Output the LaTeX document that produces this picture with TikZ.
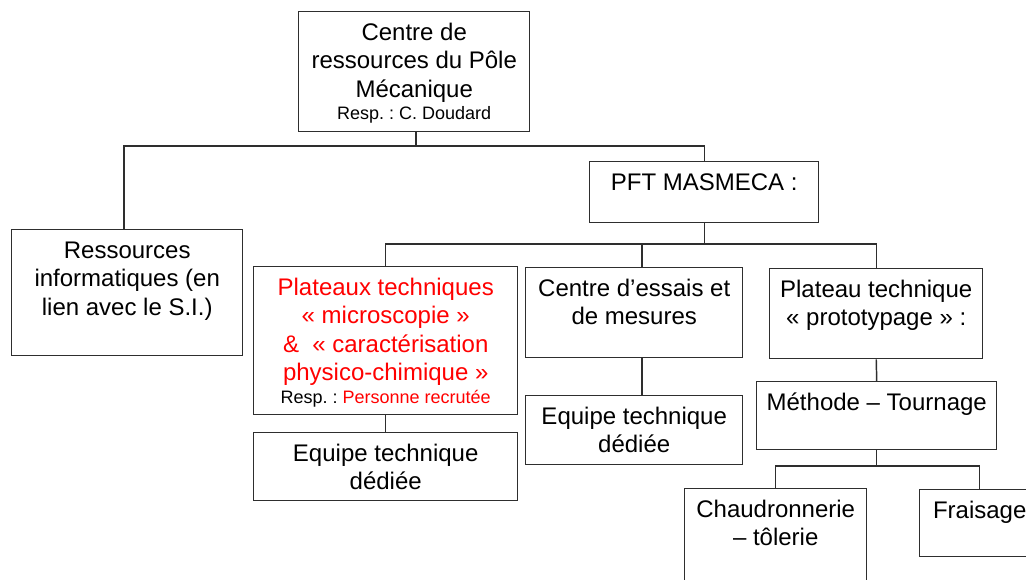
\documentclass[tikz,border=0pt]{standalone}
\usepackage{fontspec}
\setmainfont{Liberation Sans}
\frenchspacing
\newdimen\px \px=0.75pt
\definecolor{lc}{HTML}{2E2E2E}
\tikzset{
  box/.style={draw=lc, line width=1.1pt, inner sep=0pt, anchor=north west, fill=white},
  conn/.style={draw=lc, line width=1.1pt},
}
\newcommand{\bt}[3]{\parbox[t][#2\px][t]{#1\px}{\frenchspacing\centering\fontsize{18}{21.4}\selectfont\rule{0pt}{28.5\px}#3}}
\newcommand{\smallline}{\par\fontsize{13.5}{17}\selectfont}
\begin{document}
\begin{tikzpicture}[x=0.75pt,y=-0.75pt]
\useasboundingbox (0,0) rectangle (1026,580);
\fill[white] (0,0) rectangle (1026,580);
\clip (0,0) rectangle (1026,580);

\node[box] (top) at (298,11) {\bt{231}{120}{Centre de\\ressources du Pôle\\Mécanique\smallline Resp. : C. Doudard}};
\node[box] (res) at (11,229) {\bt{231}{126}{Ressources\\informatiques (en\\lien avec le S.I.)}};
\node[box] (pft) at (589,161) {\bt{229}{61}{PFT MASMECA :}};
\node[box] (plat) at (253,266) {\bt{264}{148}{\color{red}Plateaux techniques\\« microscopie »\\\&~~« caractérisation\\physico-chimique »\smallline\color{black}Resp. : \textcolor{red}{Personne recrutée}}};
\node[box] (eq1) at (253,432) {\bt{264}{68}{Equipe technique\\dédiée}};
\node[box] (ess) at (525,267) {\bt{217}{90}{Centre d’essais et\\de mesures}};
\node[box] (eq2) at (525,395) {\bt{217}{69}{Equipe technique\\dédiée}};
\node[box] (proto) at (769,268) {\bt{213}{90}{Plateau technique\\« prototypage » :}};
\node[box] (meth) at (756,381) {\bt{240}{68}{Méthode – Tournage}};
\node[box] (chau) at (684,488) {\bt{182}{130}{Chaudronnerie\\– tôlerie}};
\node[box] (frai) at (919,489) {\bt{120}{67}{Fraisage}};

\coordinate (j1) at (416,146);
\coordinate (xr) at (124,146);
\draw[conn] (top.south -| j1) -- (j1);
\draw[conn] (res.north -| xr) -- (xr) -- (j1) -| (pft.north);

\coordinate (j2) at (704,244);
\coordinate (xe) at (642,244);
\draw[conn] (pft.south) -- (pft.south |- j2);
\draw[conn] (plat.north) |- (j2) -| (proto.north);
\draw[conn] (xe) -- (ess.north -| xe);
\draw[conn] (ess.south -| xe) -- (eq2.north -| xe);
\draw[conn] (plat.south) -- (eq1.north);
\draw[conn] (proto.south) -- (meth.north);

\coordinate (j3) at (876,466);
\draw[conn] (meth.south) -- (meth.south |- j3);
\draw[conn] (chau.north) |- (j3) -| (frai.north);
\end{tikzpicture}
\end{document}
